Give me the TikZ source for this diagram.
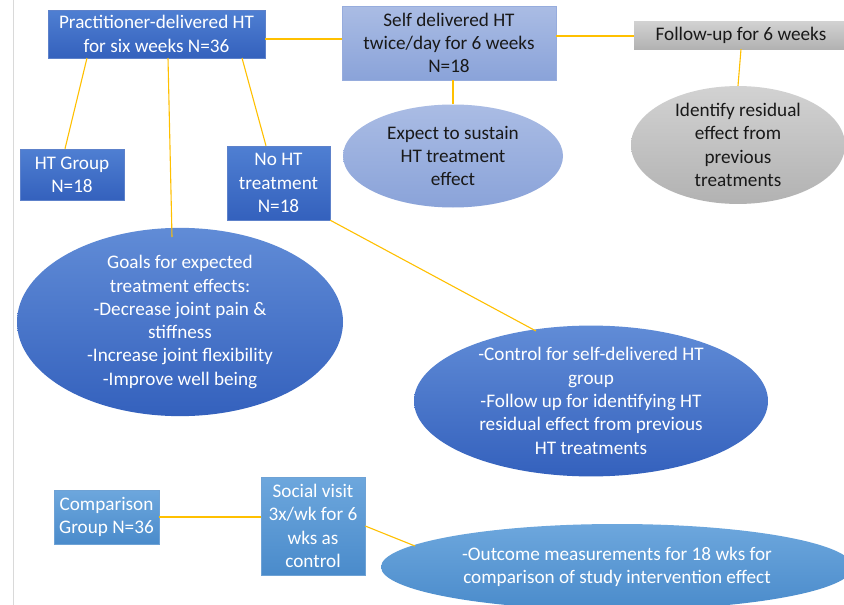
\documentclass[tikz,border=0pt]{standalone}
\usepackage{fontspec}
\setmainfont{Carlito}
\usetikzlibrary{shapes.geometric}
\definecolor{bluetop}{HTML}{4F7FD2}
\definecolor{bluebot}{HTML}{3461BD}
\definecolor{lavtop}{HTML}{AABCE4}
\definecolor{lavbot}{HTML}{8AA3D9}
\definecolor{graytop}{HTML}{D2D2D2}
\definecolor{graybot}{HTML}{B2B2B2}
\definecolor{skytop}{HTML}{6DA7DD}
\definecolor{skybot}{HTML}{4A8BCB}
\definecolor{conn}{HTML}{FFC000}
\tikzset{
  x=1pt,y=-1pt,
  base/.style={inner sep=0pt,align=center,font=\fontsize{19.2}{23.3}\selectfont},
  bluebox/.style={base,rectangle,top color=bluetop,bottom color=bluebot,draw=bluebot!80!white,text=white},
  lavbox/.style={base,rectangle,top color=lavtop,bottom color=lavbot,draw=lavbot!90!white,text=black!90},
  graybox/.style={base,rectangle,top color=graytop,bottom color=graybot,text=black!90},
  skybox/.style={base,rectangle,top color=skytop,bottom color=skybot,draw=skybot!80!white,text=white},
  blueell/.style={base,ellipse,top color=bluetop!90!white,bottom color=bluebot,text=white},
  lavell/.style={base,ellipse,top color=lavtop,bottom color=lavbot,text=black!90},
  grayell/.style={base,ellipse,top color=graytop,bottom color=graybot,text=black!90},
  skyell/.style={base,ellipse,top color=skytop,bottom color=skybot,text=white},
  link/.style={draw=conn,line width=1.1pt},
}
\begin{document}
\begin{tikzpicture}
\useasboundingbox (0,0) rectangle (844,605);
\clip (0,0) rectangle (844,605);
\fill[white] (0,0) rectangle (844,605);
\draw[black!15,line width=0.8pt] (13,0) -- (13,605);

% boxes
\node[bluebox,minimum width=217pt,minimum height=48pt] (prac) at (156.5,34) {Practitioner-delivered HT\\for six weeks N=36};
\node[lavbox,minimum width=214pt,minimum height=74pt] (self) at (449,43) {Self delivered HT\\twice/day for 6 weeks\\N=18};
\node[graybox,minimum width=214pt,minimum height=28pt] (foll) at (741,35) {Follow-up for 6 weeks};
\node[bluebox,minimum width=104pt,minimum height=51pt] (htg) at (72,174.5) {HT Group\\N=18};
\node[bluebox,minimum width=103pt,minimum height=74pt] (noht) at (278.5,183) {No HT\\treatment\\N=18};
\node[skybox,minimum width=105pt,minimum height=54pt] (comp) at (106.5,517) {Comparison\\Group N=36};
\node[skybox,minimum width=104pt,minimum height=98pt] (soc) at (313,526) {Social visit\\3x/wk for 6\\wks as\\control};

% ellipses
\node[lavell,minimum width=220pt,minimum height=103pt] (exp) at (453,156) {Expect to sustain\\HT treatment\\effect};
\node[grayell,minimum width=214pt,minimum height=116pt] (ident) at (738,145) {Identify residual\\effect from\\previous\\treatments};
\node[blueell,minimum width=326pt,minimum height=171pt] (goals) at (180,322) {Goals for expected\\treatment effects:\\-Decrease joint pain \&\\stiffness\\-Increase joint flexibility\\-Improve well being};
\node[blueell,minimum width=354pt,minimum height=144pt] (ctrl) at (591,401) {-Control for self-delivered HT\\group\\-Follow up for identifying HT\\residual effect from previous\\HT treatments};
\node[skyell,minimum width=472pt,minimum height=86pt] (out) at (617,567) {-Outcome measurements for 18 wks for\\comparison of study intervention effect};

% connectors
\coordinate (p1) at (87,58);
\coordinate (p2) at (168,58);
\coordinate (p3) at (242,58);
\coordinate (g1) at (172,237);
\coordinate (c1) at (536,331);
\coordinate (o1) at (415,546);
\path[link] (prac.east |- 0,39) -- (self.west |- 0,39);
\path[link] (self.east |- 0,36) -- (foll.west |- 0,36);
\path[link] (p1) -- (htg.north -| 65,0);
\path[link] (p2) -- (g1);
\path[link] (p3) -- (noht.north -| 266,0);
\path[link] (noht.south east) -- (c1);
\path[link] (self.south -| exp.north) -- (exp.north);
\path[link] (foll.south) -- (ident.north);
\path[link] (comp.east) -- (soc.west |- comp.east);
\path[link] (soc.east) -- (o1);
\end{tikzpicture}
\end{document}
